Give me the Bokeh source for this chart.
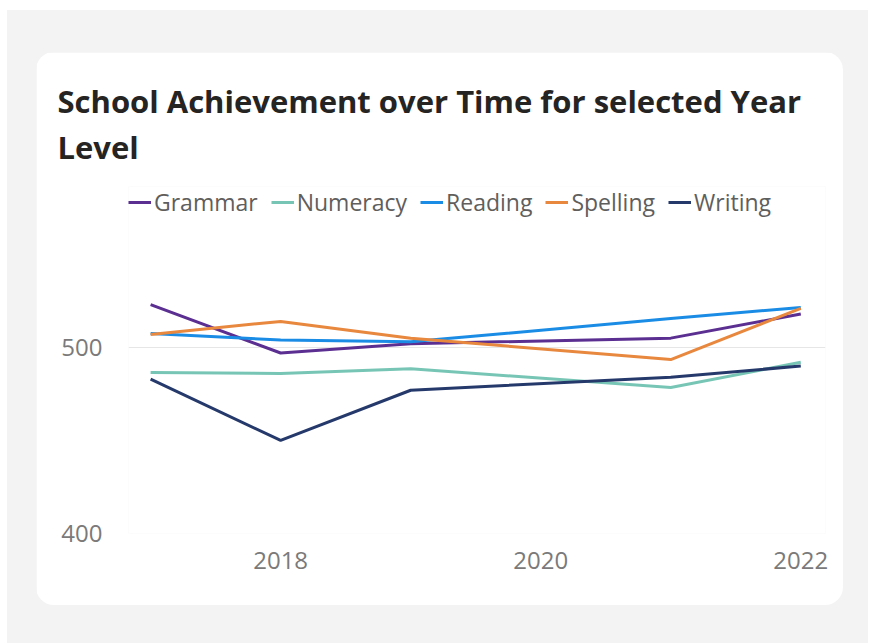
from bokeh.plotting import figure
from bokeh.models import Range1d, Legend, LegendItem, FixedTicker
from bokeh.layouts import column
from bokeh.embed import file_html
from bokeh.resources import INLINE

years = [2017, 2018, 2019, 2021, 2022]
grammar = [523, 497, 502, 505, 518]
numeracy = [486.5, 486, 488.5, 478.5, 492]
reading = [507.5, 504, 503, 515.5, 521.5]
spelling = [507, 514, 505, 493.5, 521]
writing = [483, 450, 477, 484, 490]

series = [
    ("Grammar", grammar, "#5B2E91"),
    ("Numeracy", numeracy, "#77C6B5"),
    ("Reading", reading, "#1A8CE5"),
    ("Spelling", spelling, "#E8873E"),
    ("Writing", writing, "#25396B"),
]
x_ticks = [2018, 2020, 2022]
y_ticks = [400, 500]
title_text = "School Achievement over Time for selected Year\nLevel"

p = figure(width=807, height=553, output_backend="svg", toolbar_location=None,
           title=title_text, x_range=Range1d(2016.83, 2022.19),
           y_range=Range1d(400, 586.5), margin=(42, 0, 0, 29),
           styles={"border-radius": "18px", "overflow": "hidden"})
p.border_fill_color = "white"
p.background_fill_color = "white"
p.outline_line_color = None
p.min_border_left = 92
p.min_border_right = 18
p.min_border_top = 134
p.min_border_bottom = 72

p.title.text_font = "Open Sans"
p.title.text_font_size = "31px"
p.title.text_font_style = "bold"
p.title.text_color = "#252423"
p.title.text_line_height = 1.1
p.title.align = "left"
p.title.offset = -71
p.title.standoff = 36

items = []
for name, vals, col in series:
    r = p.line(years, vals, line_color=col, line_width=3)
    items.append(LegendItem(label=name, renderers=[r]))

legend = Legend(items=items, orientation="horizontal", location="top_left",
                label_text_font="Open Sans", label_text_font_size="23px",
                label_text_color="#605E5C", glyph_width=23, glyph_height=24,
                label_standoff=3, spacing=13, padding=0, margin=0,
                border_line_color=None, background_fill_alpha=0)
p.add_layout(legend, "center")

for ax in (p.xaxis[0], p.yaxis[0]):
    ax.axis_line_color = None
    ax.major_tick_line_color = None
    ax.minor_tick_line_color = None
    ax.major_tick_out = 0
    ax.major_tick_in = 0
    ax.major_label_text_font = "Open Sans"
    ax.major_label_text_font_size = "24px"
    ax.major_label_text_color = "#7A7A7A"
p.xaxis[0].ticker = FixedTicker(ticks=x_ticks)
p.yaxis[0].ticker = FixedTicker(ticks=y_ticks)
p.xaxis[0].major_label_standoff = 18
p.yaxis[0].major_label_standoff = 26
p.xgrid.grid_line_color = None
p.ygrid.ticker = FixedTicker(ticks=y_ticks)
p.ygrid.grid_line_color = "#E6E6E6"
p.ygrid.grid_line_width = 1

outer = column(p, width=861, height=633, margin=(10, 0, 0, 7),
               styles={"background-color": "#F3F3F3"})

open("out.html", "w").write(file_html(outer, INLINE))
